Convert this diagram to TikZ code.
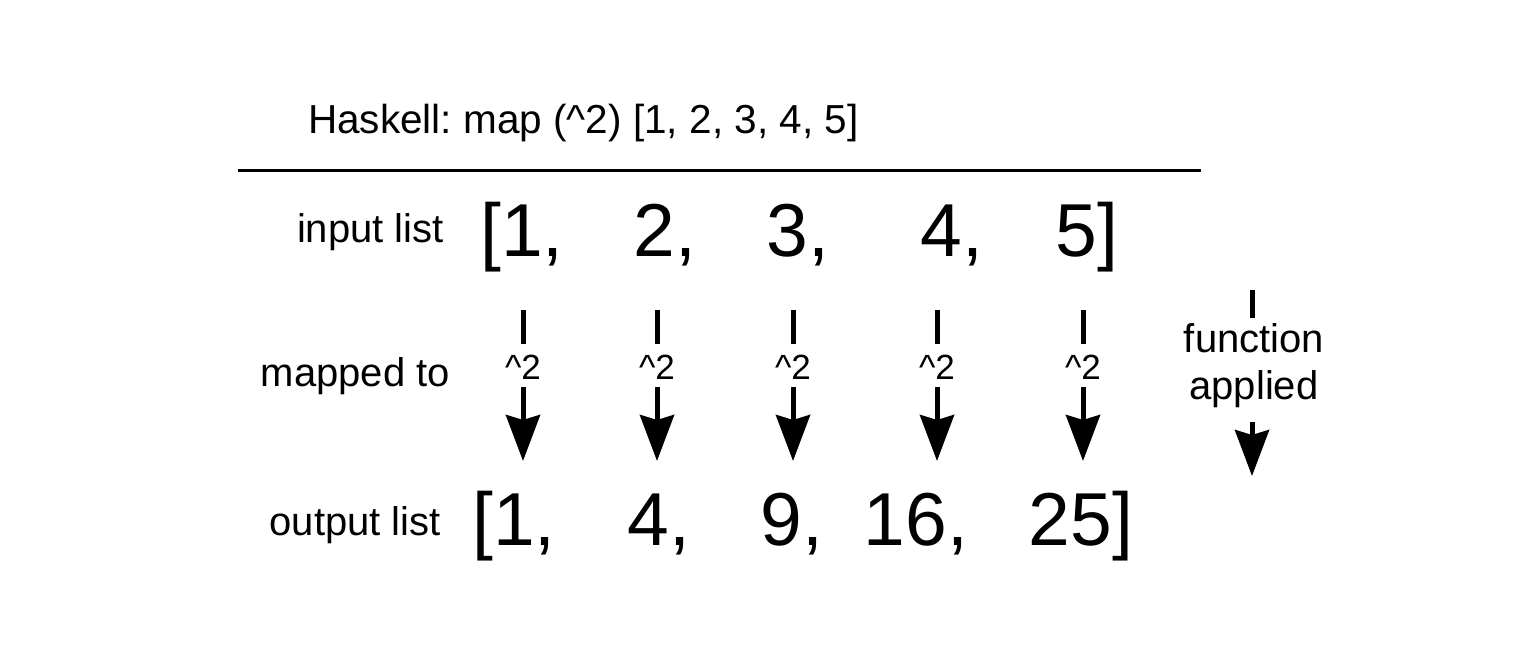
\documentclass[tikz,border=0pt]{standalone}
\usepackage{fontspec}
\setmainfont{Liberation Sans}
\usetikzlibrary{arrows.meta}
\frenchspacing
\tikzset{
  lbl/.style={anchor=base east,inner sep=0pt,font=\fontsize{40}{44}\selectfont},
  num/.style={anchor=base,inner sep=0pt,font=\fontsize{75}{80}\selectfont},
  sqlbl/.style={inner sep=0pt,font=\fontsize{35}{38}\selectfont},
  tick/.style={line width=5pt},
  maparrow/.style={line width=5pt,-{Stealth[width=34pt,length=46pt,inset=5pt]}}
}
\begin{document}
\begin{tikzpicture}[x=1pt,y=-1pt]
    \useasboundingbox (0,0) rectangle (1518,654);

    % Title and rule
    \node[anchor=base west,inner sep=0pt,font=\fontsize{40.5}{44}\selectfont] (title) at (308,133) {Haskell: map (\textasciicircum 2) [1, 2, 3, 4, 5]};
    \coordinate (ruleL) at (238,170);
    \coordinate (ruleR) at (1201,170);
    \draw[line width=3pt] (ruleL) -- (ruleR);

    % Row labels
    \node[lbl] (inlbl) at (444,242) {input list};
    \node[lbl] (maplbl) at (450,386) {mapped to};
    \node[lbl] (outlbl) at (441,535) {output list};

    % Input and output lists
    \foreach \x/\t [count=\i] in {522/{[1,},665/{2,},798/{3,},952/{4,},1087/{5]}} {
        \node[num] (in\i) at (\x,256) {\t};
    }
    \foreach \x/\t [count=\i] in {514/{[1,},659/{4,},792/{9,},916/{16,},1081/{25]}} {
        \node[num] (out\i) at (\x,545) {\t};
    }

    % Mapping arrows
    \foreach \x [count=\i] in {523,657,793,937,1083} {
        \coordinate (top\i) at (\x,310);
        \coordinate (tip\i) at (\x,461);
        \node[sqlbl] (sq\i) at (\x,367) {\textasciicircum 2};
        \draw[tick] (top\i) -- ([yshift=11pt]sq\i.north);
        \draw[maparrow] ([yshift=-8pt]sq\i.south) -- (tip\i);
    }

    % Function applied
    \node[align=center,inner sep=0pt,font=\fontsize{40}{47}\selectfont] (fa) at (1254,366) {function\\applied};
    \coordinate (fatop) at (1252,290);
    \coordinate (fatip) at (1252,476);
    \draw[tick] (fatop) -- ([yshift=6pt]fa.north -| fatop);
    \draw[maparrow] ([yshift=-14pt]fa.south -| fatop) -- (fatip);
\end{tikzpicture}
\end{document}
